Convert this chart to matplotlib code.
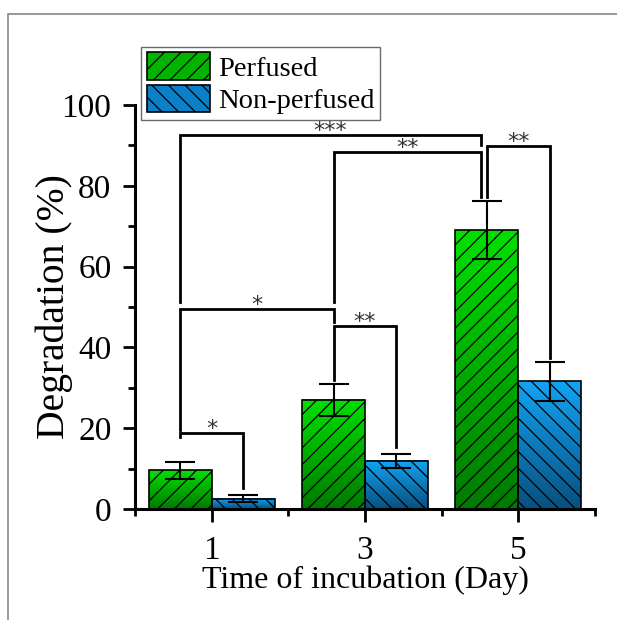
import numpy as np
import matplotlib
matplotlib.use("Agg")
import matplotlib.pyplot as plt
from matplotlib.colors import LinearSegmentedColormap
from matplotlib.patches import Rectangle

plt.rcParams['font.family'] = ['Liberation Serif', 'DejaVu Serif']
plt.rcParams['hatch.linewidth'] = 0.9

days = [1, 3, 5]
labels = ["Perfused", "Non-perfused"]
perfused = [9.6, 27.0, 69.0]
perfused_err = [2.1, 3.9, 7.2]
nonperfused = [2.6, 11.9, 31.6]
nonperfused_err = [0.9, 1.65, 4.8]

# significance brackets: left x, right x, top y, left leg end, right leg end, stars
brackets = [
    (0.59, 1.41, 18.8, 17.8, 5.2, "*"),
    (2.59, 3.41, 45.3, 31.9, 15.3, "**"),
    (0.59, 2.59, 49.4, 19.6, 46.4, "*"),
    (2.59, 4.51, 88.4, 51.3, 77.3, "**"),
    (0.59, 4.51, 92.6, 51.3, 90.1, "***"),
    (4.59, 5.41, 89.9, 77.3, 37.4, "**"),
]

w = 0.82
green = LinearSegmentedColormap.from_list("g", ["#007a00", "#00e000"])
blue = LinearSegmentedColormap.from_list("b", ["#08507f", "#12a4f5"])

fig = plt.figure(figsize=(6.17, 6.2), dpi=100)
ax = fig.add_axes([0.2188, 0.179, 0.7455, 0.6516])

grad = np.linspace(0, 1, 100).reshape(-1, 1)
x = np.array(days, dtype=float)
for xs, vals, errs, cmap, hatch in [(x - w / 2, perfused, perfused_err, green, "//"),
                                     (x + w / 2, nonperfused, nonperfused_err, blue, "\\\\")]:
    for xc, v in zip(xs, vals):
        ax.imshow(grad, extent=[xc - w / 2, xc + w / 2, 0, v], origin="lower",
                  cmap=cmap, aspect="auto", zorder=1)
    ax.bar(xs, vals, width=w, facecolor="none", edgecolor="black", linewidth=1.2,
           hatch=hatch, zorder=2)
    ax.errorbar(xs, vals, yerr=errs, fmt="none", ecolor="black", elinewidth=1.5,
                capsize=11, capthick=1.5, zorder=3)

for x1, x2, y, b1, b2, s in brackets:
    ax.plot([x1, x1, x2, x2], [b1, y, y, b2], color="black", lw=2, zorder=4,
            solid_joinstyle="miter")
    ax.text((x1 + x2) / 2, y - 0.5, s, ha="center", va="baseline", fontsize=16,
            color="#333333", family="DejaVu Sans")

ax.set_xlim(0, 6)
ax.set_ylim(0, 100)
ax.set_xticks(days)
ax.set_xticks([0, 2, 4, 6], minor=True)
ax.set_yticks([0, 20, 40, 60, 80, 100])
ax.set_yticks([10, 30, 50, 70, 90], minor=True)
for sp in ["top", "right"]:
    ax.spines[sp].set_visible(False)
for sp in ["left", "bottom"]:
    ax.spines[sp].set_linewidth(2.2)
ax.tick_params(which="major", direction="out", length=9, width=2, labelsize=24)
ax.tick_params(axis="x", which="major", pad=10)
ax.tick_params(axis="y", which="major", pad=8)
ax.tick_params(which="minor", direction="out", length=5, width=2)
ax.set_xlabel("Time of incubation (Day)", fontsize=23, labelpad=0)
ax.set_ylabel("Degradation (%)", fontsize=28.5, labelpad=-8)

handles = [Rectangle((0, 0), 1, 1, facecolor="#00b400", edgecolor="black", hatch="//", lw=1.2),
           Rectangle((0, 0), 1, 1, facecolor="#0a80c8", edgecolor="black", hatch="\\\\", lw=1.2)]
leg = fig.legend(handles, labels, loc="upper left", bbox_to_anchor=(0.229, 0.925),
                 fontsize=20.5, frameon=True, fancybox=False, edgecolor="#444444",
                 handlelength=2.2, handleheight=1.1, handletextpad=0.3,
                 labelspacing=0.12, borderpad=0.2, borderaxespad=0)
leg.get_frame().set_linewidth(1)

fig.add_artist(Rectangle((8 / 617, -0.1), 1.2, 1.1 - 14 / 620, transform=fig.transFigure,
                         fill=False, edgecolor="#888888", lw=1.2, clip_on=False))

fig.savefig("out.png", dpi=100)
